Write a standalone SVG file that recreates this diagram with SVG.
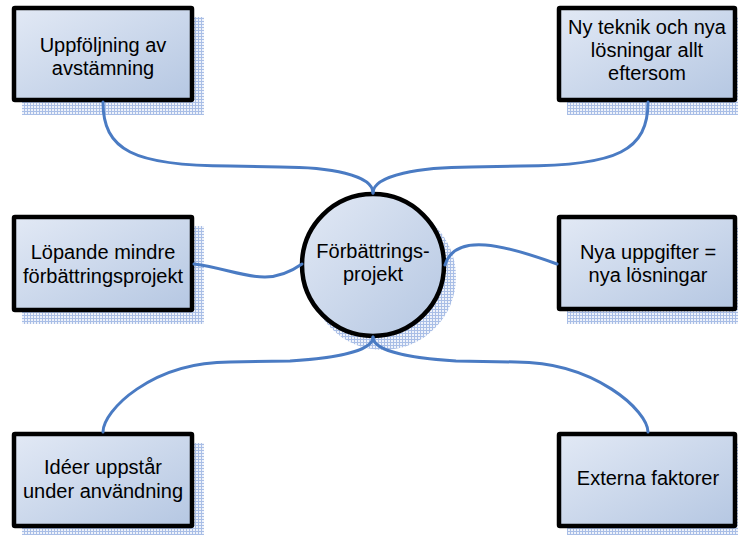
<svg xmlns="http://www.w3.org/2000/svg" width="738" height="535" viewBox="0 0 738 535">
  <defs>
    <linearGradient id="fillGrad" x1="0" y1="0" x2="1" y2="1">
      <stop offset="0" stop-color="#e2e9f5"/>
      <stop offset="1" stop-color="#b5c7e2"/>
    </linearGradient>
    <pattern id="hatch" width="3" height="3" patternUnits="userSpaceOnUse">
      <rect width="3" height="3" fill="#eef2fa"/>
      <rect width="3" height="1" fill="#a9bee6"/>
      <rect width="1" height="3" fill="#a9bee6"/>
    </pattern>
  </defs>
  <style>
    .shadow { fill: url(#hatch); }
    .box { fill: url(#fillGrad); stroke: #000; stroke-width: 4.5; stroke-linejoin: round; }
    .hub { fill: url(#fillGrad); stroke: #000; stroke-width: 4.5; }
    .label { font-family: "Liberation Sans", Arial, sans-serif; font-size: 20px; fill: #000; text-anchor: middle; }
    .link { fill: none; stroke: #4a7bc3; stroke-width: 3; stroke-linecap: round; }
  </style>

  <rect width="738" height="535" fill="#fff"/>

  <!-- central hub -->
  <g id="hub">
    <circle class="shadow" cx="383" cy="277" r="73"/>
    <circle class="hub" cx="373" cy="265" r="71"/>
    <text class="label" x="373" y="258">Förbättrings-</text>
    <text class="label" x="373" y="281">projekt</text>
  </g>

  <g id="node-uppfoljning">
    <rect class="shadow" x="22" y="17" width="182" height="98"/>
    <rect class="box" x="14" y="8" width="178" height="92" rx="1"/>
    <text class="label" x="103" y="52">Uppföljning av</text>
    <text class="label" x="103" y="75">avstämning</text>
  </g>

  <g id="node-ny-teknik">
    <rect class="shadow" x="567" y="17" width="182" height="98"/>
    <rect class="box" x="559" y="8" width="176" height="92" rx="1"/>
    <text class="label" x="647" y="34">Ny teknik och nya</text>
    <text class="label" x="647" y="57">lösningar allt</text>
    <text class="label" x="647" y="80">eftersom</text>
  </g>

  <g id="node-lopande">
    <rect class="shadow" x="22" y="226" width="182" height="98"/>
    <rect class="box" x="14" y="217" width="178" height="93" rx="1"/>
    <text class="label" x="103" y="259">Löpande mindre</text>
    <text class="label" x="103" y="283">förbättringsprojekt</text>
  </g>

  <g id="node-nya-uppgifter">
    <rect class="shadow" x="567" y="226" width="182" height="98"/>
    <rect class="box" x="559" y="217" width="176" height="92" rx="1"/>
    <text class="label" x="648" y="259">Nya uppgifter =</text>
    <text class="label" x="648" y="282">nya lösningar</text>
  </g>

  <g id="node-ideer">
    <rect class="shadow" x="22" y="443" width="182" height="98"/>
    <rect class="box" x="14" y="434" width="178" height="92" rx="1"/>
    <text class="label" x="103" y="474">Idéer uppstår</text>
    <text class="label" x="103" y="498">under användning</text>
  </g>

  <g id="node-externa">
    <rect class="shadow" x="567" y="443" width="182" height="98"/>
    <rect class="box" x="559" y="434" width="176" height="92" rx="1"/>
    <text class="label" x="648" y="485">Externa faktorer</text>
  </g>

  <!-- curved connectors into the hub -->
  <g id="connectors">
    <path class="link" d="M103,102 C103,150 133,166 230,166 L280,167 C330,167 373,175 373,193"/>
    <path class="link" d="M648,102 C648,150 618,166 521,166 L471,167 C421,167 373,175 373,193"/>
    <path class="link" d="M194,264 C240,270 265,290 302,264"/>
    <path class="link" d="M445,265 C455,232 505,245 557,264"/>
    <path class="link" d="M373,337 C373,350 340,358 290,361 L230,362 C151,362 103,411 103,432"/>
    <path class="link" d="M373,337 C373,350 406,358 456,361 L516,362 C595,362 648,411 648,432"/>
  </g>
</svg>
